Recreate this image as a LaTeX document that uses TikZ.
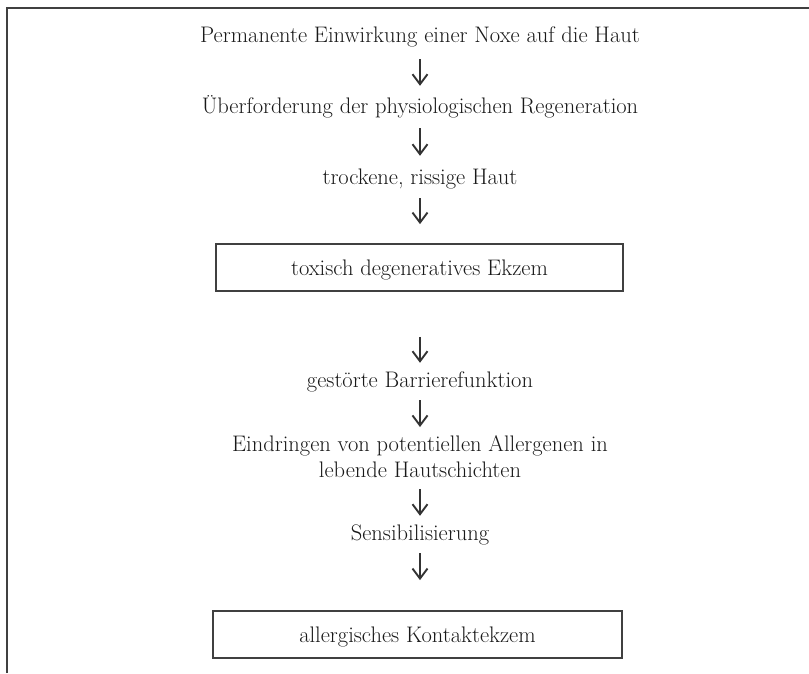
\documentclass[tikz,border=0pt]{standalone}
\usetikzlibrary{arrows.meta}
\begin{document}
\begin{tikzpicture}[x=1pt,y=-1pt,
  lbl/.style={inner sep=0pt,text height=15pt,text depth=5pt,font=\fontsize{22.5}{26}\selectfont,text=black!90},
  boxnode/.style={draw=black!75,line width=1.8pt,inner sep=0pt,minimum height=47pt,text height=20pt,text depth=5pt,font=\fontsize{22.5}{26}\selectfont,text=black!90},
  flow/.style={draw=black!80,line width=1.9pt,-{Straight Barb[length=10pt,width=15pt]}}]
\useasboundingbox (0,0) rectangle (809,673);
\draw[black!75,line width=2pt] (7,673) -- (7,8) -- (809,8);

\node[lbl,anchor=base] (n1) at (420,42) {Permanente Einwirkung einer Noxe auf die Haut};
\node[lbl,anchor=base] (n2) at (420,113) {Überforderung der physiologischen Regeneration};
\node[lbl,anchor=base] (n3) at (420,184) {trockene, rissige Haut};
\node[boxnode,minimum width=407pt] (b1) at (419.5,267.5) {toxisch degeneratives Ekzem};
\node[lbl,anchor=base] (n4) at (420,387) {gestörte Barrierefunktion};
\node[inner sep=0pt,align=center,anchor=north,font=\fontsize{22.5}{26}\selectfont,text=black!90] (n5) at (420,435) {Eindringen von potentiellen Allergenen in\\lebende Hautschichten};
\node[lbl,anchor=base] (n6) at (420,540) {Sensibilisierung};
\node[boxnode,minimum width=409pt] (b2) at (417.5,634.5) {allergisches Kontaktekzem};

\draw[flow,shorten <=12pt,shorten >=12pt] (n1.south) -- (n2.north);
\draw[flow,shorten <=10pt,shorten >=13pt] (n2.south) -- (n3.north);
\draw[flow,shorten <=9pt,shorten >=19pt] (n3.south) -- (b1.north -| n3.south);
\draw[flow,shorten <=45pt,shorten >=9pt] (b1.south -| n4.north) -- (n4.north);
\draw[flow,shorten <=8pt,shorten >=8pt] (n4.south) -- (n5.north);
\draw[flow,shorten <=12pt,shorten >=9pt] (n5.south) -- (n6.north);
\draw[flow,shorten <=8pt,shorten >=30pt] (n6.south) -- (b2.north -| n6.south);
\end{tikzpicture}
\end{document}
